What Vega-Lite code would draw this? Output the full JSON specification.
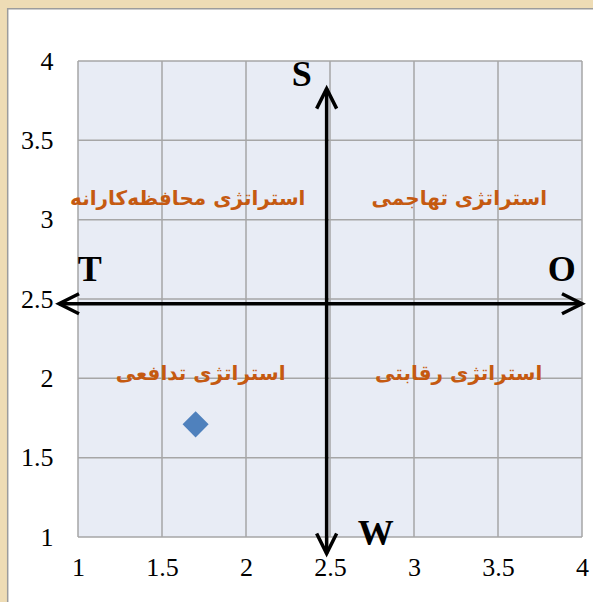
{
  "$schema": "https://vega.github.io/schema/vega-lite/v6.json",
  "width": 504,
  "height": 476,
  "autosize": {"type": "none"},
  "padding": {"left": 78, "top": 61, "right": 11, "bottom": 65},
  "background": "#eedcb5",
  "config": {
    "view": {"stroke": null}
  },
  "datasets": {
    "gridValues": [{"v": 1}, {"v": 1.5}, {"v": 2}, {"v": 2.5}, {"v": 3}, {"v": 3.5}, {"v": 4}],
    "axisLines": [
      {"x1": 0.887, "x2": 4.0, "y1": 2.47, "y2": 2.47},
      {"x1": 2.48, "x2": 2.48, "y1": 0.896, "y2": 3.826}
    ],
    "arrowHeads": [
      {"x": 4.0, "y": 2.47, "a": 0},
      {"x": 0.887, "y": 2.47, "a": 180},
      {"x": 2.48, "y": 3.826, "a": 270},
      {"x": 2.48, "y": 0.896, "a": 90}
    ],
    "letters": [
      {"t": "S", "x": 2.332, "y": 3.91},
      {"t": "W", "x": 2.772, "y": 1.016},
      {"t": "T", "x": 1.07, "y": 2.68},
      {"t": "O", "x": 3.879, "y": 2.68}
    ],
    "strategies": [
      {"t": "استراتژی محافظه‌کارانه", "x": 1.653, "y": 3.09},
      {"t": "استراتژی تهاجمی", "x": 3.27, "y": 3.09},
      {"t": "استراتژی تدافعی", "x": 1.73, "y": 1.99},
      {"t": "استراتژی رقابتی", "x": 3.266, "y": 1.99}
    ],
    "point": [{"x": 1.7, "y": 1.71}]
  },
  "layer": [
    {
      "data": {"values": [{}]},
      "mark": {"type": "rect", "fill": "#ffffff", "stroke": "#9c9c9c", "strokeWidth": 1.5},
      "encoding": {
        "x": {"datum": 0.5815, "type": "quantitative", "scale": {"domain": [1, 4], "nice": false, "zero": false},
              "axis": {"values": [1, 1.5, 2, 2.5, 3, 3.5, 4], "format": "~g", "labelPadding": 17, "orient": "bottom", "zindex": 2, "title": null,
                       "grid": false, "domain": false, "ticks": false, "labelFont": "Liberation Serif", "labelFontSize": 26, "labelColor": "#000000", "labelFlush": false, "labelOverlap": false}},
        "x2": {"datum": 4.2},
        "y": {"datum": 0.5, "type": "quantitative", "scale": {"domain": [1, 4], "nice": false, "zero": false},
              "axis": {"values": [1, 1.5, 2, 2.5, 3, 3.5, 4], "format": "~g", "labelPadding": 25, "orient": "left", "zindex": 2, "title": null,
                       "grid": false, "domain": false, "ticks": false, "labelFont": "Liberation Serif", "labelFontSize": 26, "labelColor": "#000000", "labelFlush": false, "labelOverlap": false}},
        "y2": {"datum": 4.33}
      }
    },
    {
      "data": {"values": [{}]},
      "mark": {"type": "rect", "fill": "#e8ecf5"},
      "encoding": {
        "x": {"datum": 1, "type": "quantitative"},
        "x2": {"datum": 4},
        "y": {"datum": 1, "type": "quantitative"},
        "y2": {"datum": 4}
      }
    },
    {
      "data": {"name": "gridValues"},
      "mark": {"type": "rule", "color": "#a6a6a6", "strokeWidth": 1.5},
      "encoding": {"x": {"field": "v", "type": "quantitative"}}
    },
    {
      "data": {"name": "gridValues"},
      "mark": {"type": "rule", "color": "#a6a6a6", "strokeWidth": 1.5},
      "encoding": {"y": {"field": "v", "type": "quantitative"}}
    },
    {
      "data": {"name": "axisLines"},
      "mark": {"type": "rule", "color": "#000000", "strokeWidth": 3.5},
      "encoding": {
        "x": {"field": "x1", "type": "quantitative"},
        "x2": {"field": "x2"},
        "y": {"field": "y1", "type": "quantitative"},
        "y2": {"field": "y2"}
      }
    },
    {
      "data": {"name": "arrowHeads"},
      "mark": {"type": "point", "shape": "M-2,-1L0,0L-2,1", "filled": false, "stroke": "#000000", "strokeWidth": 3.5, "size": 400, "opacity": 1},
      "encoding": {
        "x": {"field": "x", "type": "quantitative"},
        "y": {"field": "y", "type": "quantitative"},
        "angle": {"field": "a", "type": "quantitative", "scale": null}
      }
    },
    {
      "data": {"name": "letters"},
      "mark": {"type": "text", "font": "Liberation Serif", "fontWeight": "bold", "fontSize": 36, "color": "#000000", "baseline": "middle", "align": "center"},
      "encoding": {
        "x": {"field": "x", "type": "quantitative"},
        "y": {"field": "y", "type": "quantitative"},
        "text": {"field": "t"}
      }
    },
    {
      "data": {"name": "strategies"},
      "mark": {"type": "text", "font": "DejaVu Sans", "fontWeight": "bold", "fontSize": 20, "color": "#c55a11", "baseline": "alphabetic", "align": "center"},
      "encoding": {
        "x": {"field": "x", "type": "quantitative"},
        "y": {"field": "y", "type": "quantitative"},
        "text": {"field": "t"}
      }
    },
    {
      "data": {"name": "point"},
      "mark": {"type": "point", "shape": "diamond", "filled": true, "color": "#4f81bd", "size": 680, "opacity": 1},
      "encoding": {
        "x": {"field": "x", "type": "quantitative"},
        "y": {"field": "y", "type": "quantitative"}
      }
    }
  ]
}
